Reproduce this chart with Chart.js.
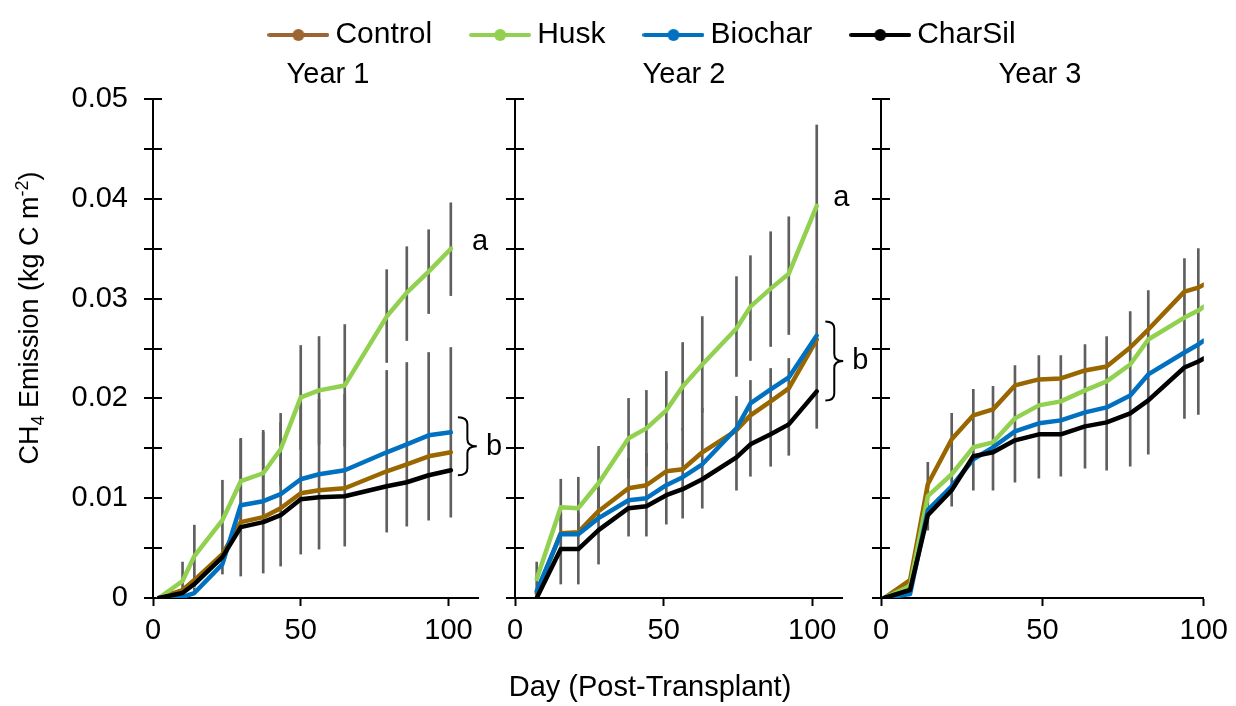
<!DOCTYPE html>
<html><head><meta charset="utf-8">
<script src="https://cdn.jsdelivr.net/npm/chart.js@4.4.1/dist/chart.umd.min.js"></script>
<style>
html,body{margin:0;padding:0;background:#fff;}
#wrap{position:relative;width:1236px;height:706px;overflow:hidden;background:#fff;}
canvas{position:absolute;left:0;top:0;}
</style></head><body>
<div id="wrap">
<canvas id="c1" width="1236" height="706"></canvas>
<canvas id="c2" width="1236" height="706"></canvas>
<canvas id="c3" width="1236" height="706"></canvas>
<canvas id="cl" width="1236" height="240" style="top:-26px"></canvas>
</div>
<script>
const FONT = "'Liberation Sans', Arial, sans-serif";
Chart.defaults.font.family = FONT;
Chart.defaults.color = '#000';

// ---------- data ----------
const seriesNames = ['Control', 'Husk', 'Biochar', 'CharSil'];
const panelTitles = ['Year 1', 'Year 2', 'Year 3'];
const xAxisTitle = 'Day (Post-Transplant)';
const groupLetters = ['a', 'b'];

// Year 1
const y1Days     = [2, 10, 14, 23.5, 29.7, 37.3, 43.2, 50, 56.2, 64.9, 79.1, 85.9, 93.3, 100.8];
const y1Control  = [0, 0.0008, 0.0018, 0.0044, 0.0076, 0.0081, 0.0090, 0.0105, 0.0108, 0.0110, 0.0127, 0.0134, 0.0142, 0.0146];
const y1Husk     = [0, 0.0017, 0.0042, 0.0078, 0.0117, 0.0125, 0.0149, 0.0201, 0.0208, 0.0213, 0.0282, 0.0306, 0.0327, 0.0350];
const y1Biochar  = [0, 0.0001, 0.0005, 0.0034, 0.0093, 0.0097, 0.0104, 0.0119, 0.0124, 0.0128, 0.0146, 0.0154, 0.0163, 0.0166];
const y1CharSil  = [0, 0.0005, 0.0014, 0.0041, 0.0071, 0.0076, 0.0083, 0.0099, 0.0101, 0.0102, 0.0112, 0.0116, 0.0123, 0.0128];
const y1HuskErrLo  = [null, 0, 0.0011, 0.0038, 0.0075, 0.0084, 0.0113, 0.0149, 0.0154, 0.0152, 0.0236, 0.0258, 0.0285, 0.0303];
const y1HuskErrHi  = [null, 0.0036, 0.0073, 0.0118, 0.0159, 0.0166, 0.0185, 0.0253, 0.0262, 0.0274, 0.0329, 0.0352, 0.0369, 0.0396];
const y1GroupErrLo = [null, null, 0.0005, 0.0024, 0.0022, 0.0025, 0.0032, 0.0044, 0.0049, 0.0052, 0.0066, 0.0072, 0.0078, 0.0081];
const y1GroupErrHi = [null, null, 0.0010, 0.0044, 0.0160, 0.0168, 0.0176, 0.0194, 0.0199, 0.0204, 0.0228, 0.0236, 0.0246, 0.0251];

// Year 2
const y2Days     = [7.3, 15.4, 21.3, 28.1, 38.2, 44.2, 50.9, 56.4, 63.0, 74.5, 79.2, 86.0, 92.1, 101.5];
const y2Control  = [0.0005, 0.0065, 0.0066, 0.0087, 0.0110, 0.0113, 0.0127, 0.0129, 0.0146, 0.0168, 0.0183, 0.0197, 0.0210, 0.0259];
const y2Husk     = [0.0019, 0.0091, 0.0090, 0.0115, 0.0160, 0.0170, 0.0188, 0.0212, 0.0234, 0.0270, 0.0292, 0.0310, 0.0325, 0.0393];
const y2Biochar  = [0.0007, 0.0064, 0.0064, 0.0080, 0.0098, 0.0100, 0.0113, 0.0121, 0.0134, 0.0170, 0.0195, 0.0209, 0.0221, 0.0263];
const y2CharSil  = [0, 0.0049, 0.0049, 0.0068, 0.0090, 0.0092, 0.0103, 0.0109, 0.0119, 0.0141, 0.0154, 0.0164, 0.0174, 0.0207];
const y2HuskErrLo  = [0, 0.0063, 0.0062, 0.0078, 0.0120, 0.0132, 0.0149, 0.0168, 0.0186, 0.0222, 0.0238, 0.0252, 0.0264, 0.0312];
const y2HuskErrHi  = [0.0036, 0.0119, 0.0121, 0.0152, 0.0200, 0.0208, 0.0227, 0.0256, 0.0282, 0.0322, 0.0343, 0.0367, 0.0382, 0.0474];
const y2GroupErrLo = [null, 0.0014, 0.0014, 0.0034, 0.0062, 0.0062, 0.0074, 0.0080, 0.0090, 0.0108, 0.0122, 0.0132, 0.0143, 0.0170];
const y2GroupErrHi = [null, 0.0085, 0.0085, 0.0110, 0.0140, 0.0145, 0.0155, 0.0170, 0.0190, 0.0202, 0.0218, 0.0230, 0.0240, 0.0312];

// Year 3
const y3Days     = [1, 9, 14.5, 21.9, 28.6, 34.7, 41.5, 48.9, 55.7, 63.2, 69.9, 77.2, 82.8, 94.0, 98.3, 100];
const y3Control  = [0, 0.0018, 0.0114, 0.0159, 0.0183, 0.0189, 0.0213, 0.0219, 0.0220, 0.0228, 0.0232, 0.0251, 0.0269, 0.0307, 0.0311, 0.0314];
const y3Husk     = [0, 0.0012, 0.0102, 0.0124, 0.0151, 0.0156, 0.0180, 0.0193, 0.0197, 0.0208, 0.0217, 0.0234, 0.0259, 0.0281, 0.0288, 0.0292];
const y3Biochar  = [0, 0.0004, 0.0088, 0.0112, 0.0139, 0.0151, 0.0167, 0.0175, 0.0178, 0.0186, 0.0191, 0.0203, 0.0224, 0.0246, 0.0254, 0.0258];
const y3CharSil  = [0, 0.0008, 0.0083, 0.0108, 0.0142, 0.0146, 0.0158, 0.0164, 0.0164, 0.0172, 0.0176, 0.0185, 0.0198, 0.0231, 0.0237, 0.0240];
const y3ErrLo    = [null, null, 0.0068, 0.0092, 0.0108, 0.0108, 0.0116, 0.0120, 0.0122, 0.0130, 0.0128, 0.0132, 0.0144, 0.0180, 0.0184, null];
const y3ErrHi    = [null, null, 0.0136, 0.0185, 0.0209, 0.0212, 0.0233, 0.0243, 0.0243, 0.0254, 0.0262, 0.0287, 0.0308, 0.0340, 0.0350, null];

// ---------- styles ----------
const lineColors = ['#996600', '#92D050', '#0070C0', '#000000'];
const legendColors = ['#9C6531', '#92D050', '#0070C0', '#000000'];
const errColor = '#5f5f5f';

function lineSets(days, seriesVals) {
  return seriesVals.map((vals, i) => ({
    type: 'line', label: seriesNames[i],
    data: days.map((d, j) => ({x: d, y: vals[j]})),
    borderColor: lineColors[i], backgroundColor: lineColors[i],
    borderWidth: 4.5, pointRadius: 0, tension: 0, fill: false,
    borderJoinStyle: 'round', borderCapStyle: 'round',
    order: 4 - i
  }));
}
function errSet(days, lo, hi) {
  return {
    type: 'bar', label: 'err',
    data: days.map((d, j) => lo[j] == null ? null : {x: d, y: [lo[j], hi[j]]}).filter(Boolean),
    backgroundColor: errColor, borderWidth: 0, barThickness: 2, grouped: false, order: 10
  };
}
function yTickLabel(v) {
  const k = Math.round(v / 0.005);
  if (k % 2) return '';
  return k === 0 ? '0' : (k * 0.005).toFixed(2);
}

const annotPlugin = {
  id: 'annot',
  afterDraw(chart, args, opts) {
    const ctx = chart.ctx, xs = chart.scales.x, ys = chart.scales.y;
    (opts.texts || []).forEach(t => {
      ctx.save();
      ctx.font = (t.size || 29) + 'px ' + FONT;
      ctx.fillStyle = '#000'; ctx.textAlign = 'center'; ctx.textBaseline = 'middle';
      const x = t.px != null ? t.px : xs.getPixelForValue(t.x);
      const y = t.py != null ? t.py : ys.getPixelForValue(t.y);
      ctx.fillText(t.text, x, y);
      ctx.restore();
    });
    (opts.braces || []).forEach(b => {
      const xl = xs.getPixelForValue(b.x0), xr = xs.getPixelForValue(b.x1);
      const yt = ys.getPixelForValue(b.yTop), yb = ys.getPixelForValue(b.yBot);
      const xm = (xl + xr) / 2, ym = (yt + yb) / 2, r = 7;
      ctx.save();
      ctx.strokeStyle = '#000'; ctx.lineWidth = 2;
      ctx.beginPath();
      ctx.moveTo(xl, yt);
      ctx.quadraticCurveTo(xm, yt, xm, yt + r);
      ctx.lineTo(xm, ym - r);
      ctx.quadraticCurveTo(xm, ym, xr, ym);
      ctx.quadraticCurveTo(xm, ym, xm, ym + r);
      ctx.lineTo(xm, yb - r);
      ctx.quadraticCurveTo(xm, yb, xl, yb);
      ctx.stroke();
      ctx.restore();
    });
    if (opts.yTitle) {
      const t = opts.yTitle, big = t.size, small = Math.round(big * 0.65);
      ctx.save();
      ctx.translate(t.px, t.py); ctx.rotate(-Math.PI / 2);
      ctx.fillStyle = '#000'; ctx.textAlign = 'left'; ctx.textBaseline = 'alphabetic';
      let total = 0;
      t.parts.forEach(([s, k]) => { ctx.font = (k ? small : big) + 'px ' + FONT; total += ctx.measureText(s).width; });
      let x = -total / 2; const base = 0.35 * big;
      t.parts.forEach(([s, k]) => {
        ctx.font = (k ? small : big) + 'px ' + FONT;
        const dy = k === 1 ? base + 0.22 * big : (k === -1 ? base - 0.4 * big : base);
        ctx.fillText(s, x, dy);
        x += ctx.measureText(s).width;
      });
      ctx.restore();
    }
  }
};
Chart.register(annotPlugin);

function panelOptions(p) {
  return {
    responsive: false, animation: false, events: [],
    layout: {padding: {left: p.padLeft, right: p.padRight, top: 99, bottom: 0}},
    plugins: {legend: {display: false}, tooltip: {enabled: false}, annot: p.annot},
    scales: {
      x: {
        type: 'linear', min: 0, max: p.xMax, offset: false,
        grid: {offset: false, drawOnChartArea: false, drawTicks: true, tickLength: 8, tickWidth: 2, tickColor: '#000'},
        border: {display: true, color: '#000', width: 2},
        ticks: {stepSize: 50, includeBounds: false, autoSkip: false, maxRotation: 0, padding: 8, font: {size: 29}, color: '#000'},
        afterFit: s => { s.height = 108; }
      },
      y: {
        type: 'linear', min: 0, max: 0.05,
        grid: {drawOnChartArea: true, color: '#000', lineWidth: 2, drawTicks: true, tickLength: 9, tickWidth: 2, tickColor: '#000'},
        border: {display: true, color: '#000', width: 2, dash: [8, 4000]},
        ticks: {stepSize: 0.005, autoSkip: false, display: p.showY, padding: 16, font: {size: 29}, color: '#000', callback: yTickLabel},
        afterFit: s => { s.width = p.yWidth; }
      }
    }
  };
}

new Chart(document.getElementById('c1'), {
  type: 'line',
  data: {datasets: [
    ...lineSets(y1Days, [y1Control, y1Husk, y1Biochar, y1CharSil]),
    errSet(y1Days, y1HuskErrLo, y1HuskErrHi),
    errSet(y1Days, y1GroupErrLo, y1GroupErrHi)
  ]},
  options: panelOptions({padLeft: 0, padRight: 758, yWidth: 153, xMax: 110, showY: true, annot: {
    texts: [
      {text: panelTitles[0], px: 328, py: 75},
      {text: groupLetters[0], x: 110.7, y: 0.0357},
      {text: groupLetters[1], x: 115.4, y: 0.0151}
    ],
    braces: [{x0: 103.2, x1: 109.6, yTop: 0.0181, yBot: 0.0123}],
    yTitle: {px: 29, py: 318, size: 27, parts: [['CH', 0], ['4', 1], [' Emission (kg C m', 0], ['-2', -1], [')', 0]]}
  }})
});

new Chart(document.getElementById('c2'), {
  type: 'line',
  data: {datasets: [
    ...lineSets(y2Days, [y2Control, y2Husk, y2Biochar, y2CharSil]),
    errSet(y2Days, y2HuskErrLo, y2HuskErrHi),
    errSet(y2Days, y2GroupErrLo, y2GroupErrHi)
  ]},
  options: panelOptions({padLeft: 506, padRight: 394, yWidth: 9, xMax: 110, showY: false, annot: {
    texts: [
      {text: panelTitles[1], px: 684, py: 75},
      {text: groupLetters[0], x: 109.8, y: 0.0401},
      {text: groupLetters[1], x: 116.2, y: 0.0237},
      {text: xAxisTitle, px: 650, py: 688}
    ],
    braces: [{x0: 104.4, x1: 110.4, yTop: 0.0277, yBot: 0.0198}]
  }})
});

new Chart(document.getElementById('c3'), {
  type: 'line',
  data: {datasets: [
    ...lineSets(y3Days, [y3Control, y3Husk, y3Biochar, y3CharSil]),
    errSet(y3Days, y3ErrLo, y3ErrHi)
  ]},
  options: panelOptions({padLeft: 872, padRight: 31, yWidth: 9, xMax: 100, showY: false, annot: {
    texts: [{text: panelTitles[2], px: 1040, py: 75}]
  }})
});

// legend
const markers = legendColors.map(c => {
  const cv = document.createElement('canvas');
  cv.width = 62; cv.height = 14;
  const g = cv.getContext('2d');
  g.strokeStyle = c; g.lineWidth = 4; g.lineCap = 'round';
  g.beginPath(); g.moveTo(2, 7); g.lineTo(60, 7); g.stroke();
  g.fillStyle = c; g.beginPath(); g.arc(31, 7, 6, 0, 2 * Math.PI); g.fill();
  return cv;
});
new Chart(document.getElementById('cl'), {
  type: 'line',
  data: {datasets: seriesNames.map((n, i) => ({label: n, data: [], borderColor: legendColors[i]}))},
  options: {
    responsive: false, animation: false, events: [],
    layout: {padding: {left: 56, right: 0, top: 0, bottom: 0}},
    scales: {x: {display: false}, y: {display: false}},
    plugins: {
      tooltip: {enabled: false},
      legend: {display: true, position: 'top', align: 'center',
        labels: {usePointStyle: true, pointStyleWidth: 44, padding: 46, font: {size: 30}, color: '#000',
          generateLabels: () => seriesNames.map((n, i) => ({
            text: n, pointStyle: markers[i], fillStyle: legendColors[i], strokeStyle: legendColors[i],
            lineWidth: 0, hidden: false, datasetIndex: i, fontColor: '#000'
          }))
        }
      }
    }
  }
});
</script>
</body></html>
